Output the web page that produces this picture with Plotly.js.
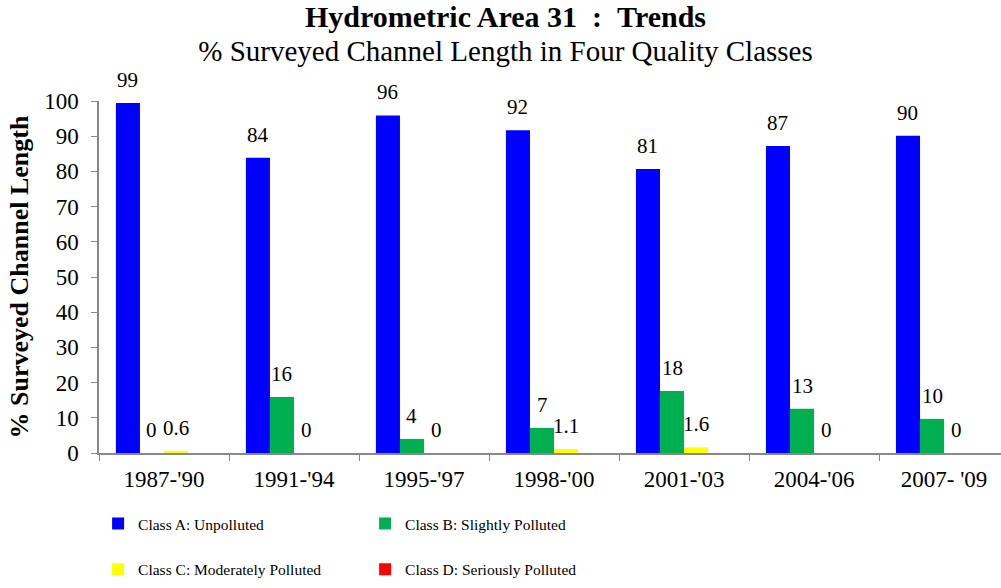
<!DOCTYPE html>
<html>
<head>
<meta charset="utf-8">
<script src="https://cdn.plot.ly/plotly-3.0.1.min.js"></script>
<style>html,body{margin:0;padding:0;background:#fff;}#chart{width:1001px;height:588px;}</style>
</head>
<body>
<div id="chart"></div>
<script>
var periods = ["1987-'90", "1991-'94", "1995-'97", "1998-'00", "2001-'03", "2004-'06", "2007- '09"];
var classA = [99.4, 83.9, 95.9, 91.7, 80.7, 87.2, 90.1];
var classB = [0, 15.9, 4.0, 7.1, 17.6, 12.6, 9.7];
var classC = [0.6, 0, 0, 1.1, 1.6, 0, 0];
var classD = [null, null, null, null, null, null, null];
var seriesNames = ["Class A: Unpolluted", "Class B: Slightly Polluted", "Class C: Moderately Polluted", "Class D: Seriously Polluted"];
var seriesColors = ['#0000FF', '#00B050', '#FFFF00', '#FF0000'];
var seriesDecimals = [0, 0, 1, null];

var serif = "'Liberation Serif', 'Times New Roman', serif";
var seriesVals = [classA, classB, classC, classD];

var BAR_GAP = 0.26;
var PLOT_W = 1001 - 99;
var X_RANGE = [-0.5, 6.438];
var catPx = PLOT_W / (X_RANGE[1] - X_RANGE[0]);
var barPx = catPx * (1 - BAR_GAP) / seriesVals.length;

var data = seriesVals.map(function (vals, i) {
  return {
    type: 'bar', x: periods, y: vals, name: seriesNames[i],
    marker: {color: seriesColors[i]},
    legend: i < 2 ? 'legend' : 'legend2',
    hoverinfo: 'y'
  };
});

function fmt(v, d) {
  if (d === 0) return String(Math.round(v));
  return String(Math.round(v * 10) / 10);
}

var annotations = [];
seriesVals.forEach(function (vals, i) {
  if (seriesDecimals[i] === null) return;
  vals.forEach(function (v, j) {
    if (v === null) return;
    annotations.push({
      x: periods[j], y: v, xref: 'x', yref: 'y',
      text: fmt(v, seriesDecimals[i]),
      showarrow: false, xanchor: 'center', yanchor: 'bottom',
      xshift: (i - (seriesVals.length - 1) / 2) * barPx, yshift: 9,
      font: {family: serif, size: 21, color: '#000'}
    });
  });
});

var legendBase = {
  orientation: 'h', xref: 'container', yref: 'container',
  x: 0.098, xanchor: 'left', yanchor: 'middle',
  entrywidth: 222, bgcolor: 'rgba(0,0,0,0)',
  font: {family: serif, size: 15.5, color: '#000'}
};

var layout = {
  width: 1001, height: 588,
  paper_bgcolor: '#fff', plot_bgcolor: '#fff',
  margin: {l: 99, r: 0, t: 101, b: 135},
  barmode: 'group', bargap: BAR_GAP, bargroupgap: 0,
  font: {family: serif, color: '#000'},
  title: {
    text: '<span style="font-size:30px"><b>Hydrometric Area 31\u00a0\u00a0:\u00a0\u00a0Trends</b></span><br><span style="font-size:29px">% Surveyed Channel Length in Four Quality Classes</span>',
    font: {family: serif, size: 26, color: '#000'},
    x: 0.505, xref: 'container', xanchor: 'center',
    y: 0.9535, yref: 'container', yanchor: 'top'
  },
  xaxis: {
    type: 'category', range: X_RANGE,
    tickson: 'boundaries', ticks: 'outside', ticklen: 6, tickcolor: '#888',
    showline: true, linecolor: '#888', linewidth: 1.5,
    tickfont: {family: serif, size: 23, color: '#000'},
    ticklabelstandoff: 5, showgrid: false, zeroline: false
  },
  yaxis: {
    range: [0, 100], dtick: 10, ticks: 'outside', ticklen: 6, tickcolor: '#888',
    showline: true, linecolor: '#888', linewidth: 1.5,
    tickfont: {family: serif, size: 23, color: '#000'},
    ticklabelstandoff: 8, showgrid: false, zeroline: false,
    title: {text: '<b>% Surveyed Channel Length</b>', font: {family: serif, size: 26, color: '#000'}, standoff: 8}
  },
  annotations: annotations,
  legend: Object.assign({}, legendBase, {y: 0.109}),
  legend2: Object.assign({}, legendBase, {y: 0.031}),
  showlegend: true
};

Plotly.newPlot('chart', data, layout, {displayModeBar: false, responsive: false});
</script>
</body>
</html>
